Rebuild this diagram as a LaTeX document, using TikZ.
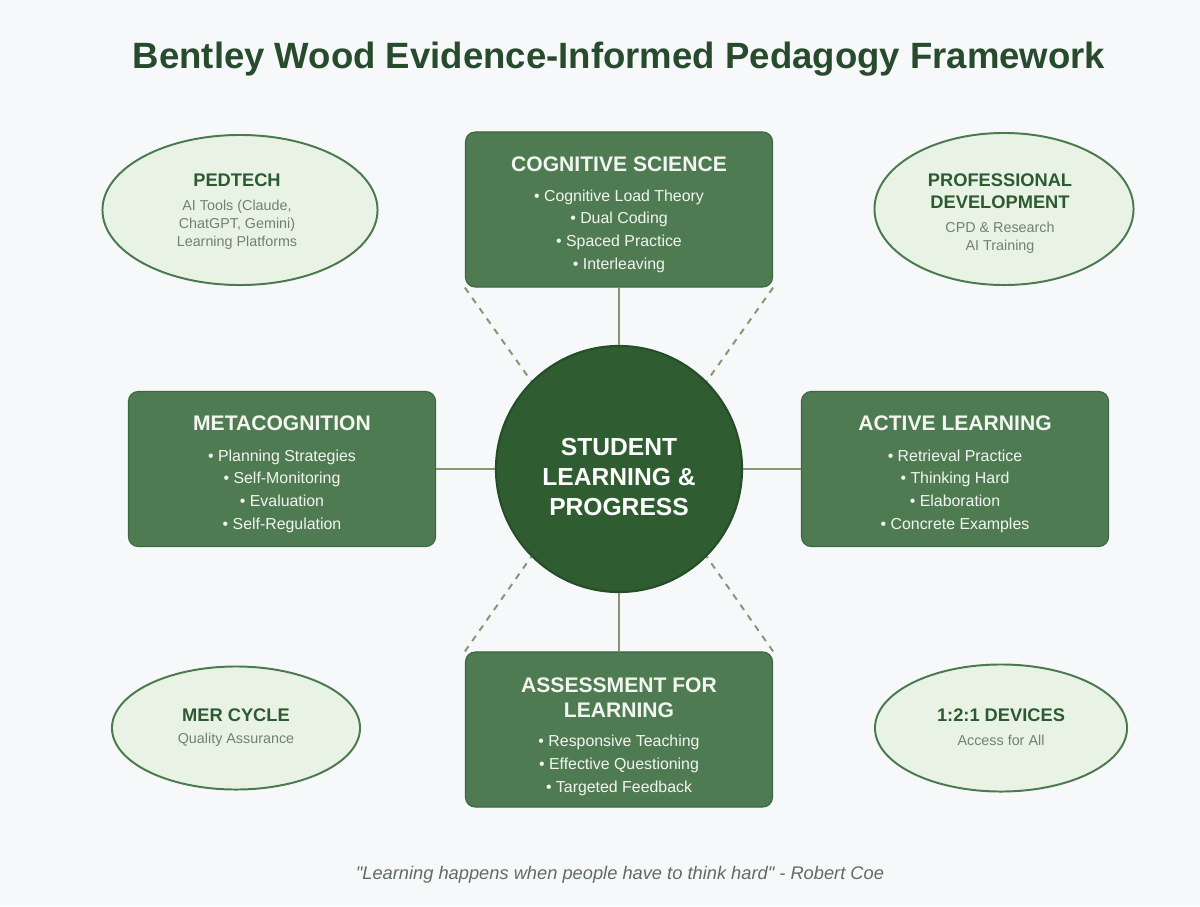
\documentclass[tikz,border=0pt]{standalone}
\usepackage{fontspec}
\setmainfont{Liberation Sans}
\usetikzlibrary{shapes.geometric}
\definecolor{bgpage}{HTML}{F7F8FA}
\definecolor{titlecol}{HTML}{284B2D}
\definecolor{boxfill}{HTML}{4F7B52}
\definecolor{boxedge}{HTML}{3C6740}
\definecolor{boxtext}{HTML}{F2F5F0}
\definecolor{hubfill}{HTML}{2F5D31}
\definecolor{hubedge}{HTML}{244D28}
\definecolor{satfill}{HTML}{E9F3E5}
\definecolor{satedge}{HTML}{4C7A4F}
\definecolor{satheadcol}{HTML}{2E5A32}
\definecolor{satsubcol}{HTML}{6E826E}
\definecolor{linkcol}{HTML}{8A9670}
\definecolor{quotecol}{HTML}{5E6E5E}
\tikzset{
  pillar/.style={draw=boxedge, line width=0.8pt, fill=boxfill, rounded corners=7pt,
    minimum width=7.675cm, minimum height=3.875cm, inner sep=0pt},
  pillarhead/.style={text=boxtext, font=\bfseries\fontsize{15}{17.8}\selectfont, align=center},
  pillarlist/.style={text=boxtext, font=\fontsize{11.3}{16.1}\selectfont, align=center},
  hub/.style={circle, draw=hubedge, line width=1.5pt, fill=hubfill, minimum size=6.15cm, inner sep=0pt},
  hubtext/.style={text=white, font=\bfseries\fontsize{17.5}{21.3}\selectfont, align=center},
  satellite/.style={ellipse, draw=satedge, line width=1.4pt, fill=satfill, inner sep=0pt},
  sathead/.style={text=satheadcol, font=\bfseries\fontsize{13}{15.6}\selectfont, align=center},
  satsub/.style={text=satsubcol, font=\fontsize{10.2}{12.8}\selectfont, align=center},
  link/.style={draw=linkcol, line width=2.1pt},
  hint/.style={draw=linkcol, line width=1.4pt, dash pattern=on 4.5pt off 4.5pt}
}
\begin{document}
\begin{tikzpicture}[x=0.025cm, y=-0.025cm]
\fill[bgpage] (0,0) rectangle (1200,906);
\node[text=titlecol, font=\bfseries\fontsize{26}{30}\selectfont] (title) at (619,59)
  {Bentley Wood Evidence-Informed Pedagogy Framework};

\node[satellite, minimum width=6.875cm, minimum height=3.75cm] (pedtech) at (240,210) {};
\node[satellite, minimum width=6.475cm, minimum height=3.8cm] (profdev) at (1004,209) {};
\node[satellite, minimum width=6.2cm, minimum height=3.075cm] (mer) at (236,728) {};
\node[satellite, minimum width=6.3cm, minimum height=3.175cm] (devices) at (1001,728) {};
\node[sathead] (pedtechhead) at (237,180) {PEDTECH};
\node[satsub] (pedtechsub) at (237,225) {AI Tools (Claude,\\ChatGPT, Gemini)\\Learning Platforms};
\node[sathead] (profdevhead) at (1000,191) {PROFESSIONAL\\DEVELOPMENT};
\node[satsub] (profdevsub) at (1000,238) {CPD \& Research\\AI Training};
\node[sathead] (merhead) at (236,715) {MER CYCLE};
\node[satsub] (mersub) at (236,740) {Quality Assurance};
\node[sathead] (deviceshead) at (1001,715) {1:2:1 DEVICES};
\node[satsub] (devicessub) at (1001,740) {Access for All};

\node[hub] (hub) at (619,469) {};
\node[pillar] (cog) at (619,209.5) {};
\node[pillar] (meta) at (282,469) {};
\node[pillar] (active) at (955,469) {};
\node[pillar] (assess) at (619,729.5) {};

\draw[link] (cog) -- (hub);
\draw[link] (meta) -- (hub);
\draw[link] (active) -- (hub);
\draw[link] (assess) -- (hub);
\draw[hint] (cog.south west) -- (hub.135);
\draw[hint] (cog.south east) -- (hub.45);
\draw[hint] (assess.north west) -- (hub.225);
\draw[hint] (assess.north east) -- (hub.315);

\node[hubtext] (hubtxt) at (619,477) {STUDENT\\LEARNING \&\\PROGRESS};

\node[pillarhead] (coghead) at (619,164) {COGNITIVE SCIENCE};
\node[pillarlist] (coglist) at (619,231)
  {• Cognitive Load Theory\\• Dual Coding\\• Spaced Practice\\• Interleaving};
\node[pillarhead] (metahead) at (282,423) {METACOGNITION};
\node[pillarlist] (metalist) at (282,491)
  {• Planning Strategies\\• Self-Monitoring\\• Evaluation\\• Self-Regulation};
\node[pillarhead] (activehead) at (955,423) {ACTIVE LEARNING};
\node[pillarlist] (activelist) at (955,491)
  {• Retrieval Practice\\• Thinking Hard\\• Elaboration\\• Concrete Examples};
\node[pillarhead] (assesshead) at (619,697.5) {ASSESSMENT FOR\\LEARNING};
\node[pillarlist] (assesslist) at (619,765.5)
  {• Responsive Teaching\\• Effective Questioning\\• Targeted Feedback};

\node[text=quotecol, font=\itshape\fontsize{13}{15}\selectfont] (quote) at (620,875)
  {\textquotedbl Learning happens when people have to think hard\textquotedbl{} - Robert Coe};
\end{tikzpicture}
\end{document}
